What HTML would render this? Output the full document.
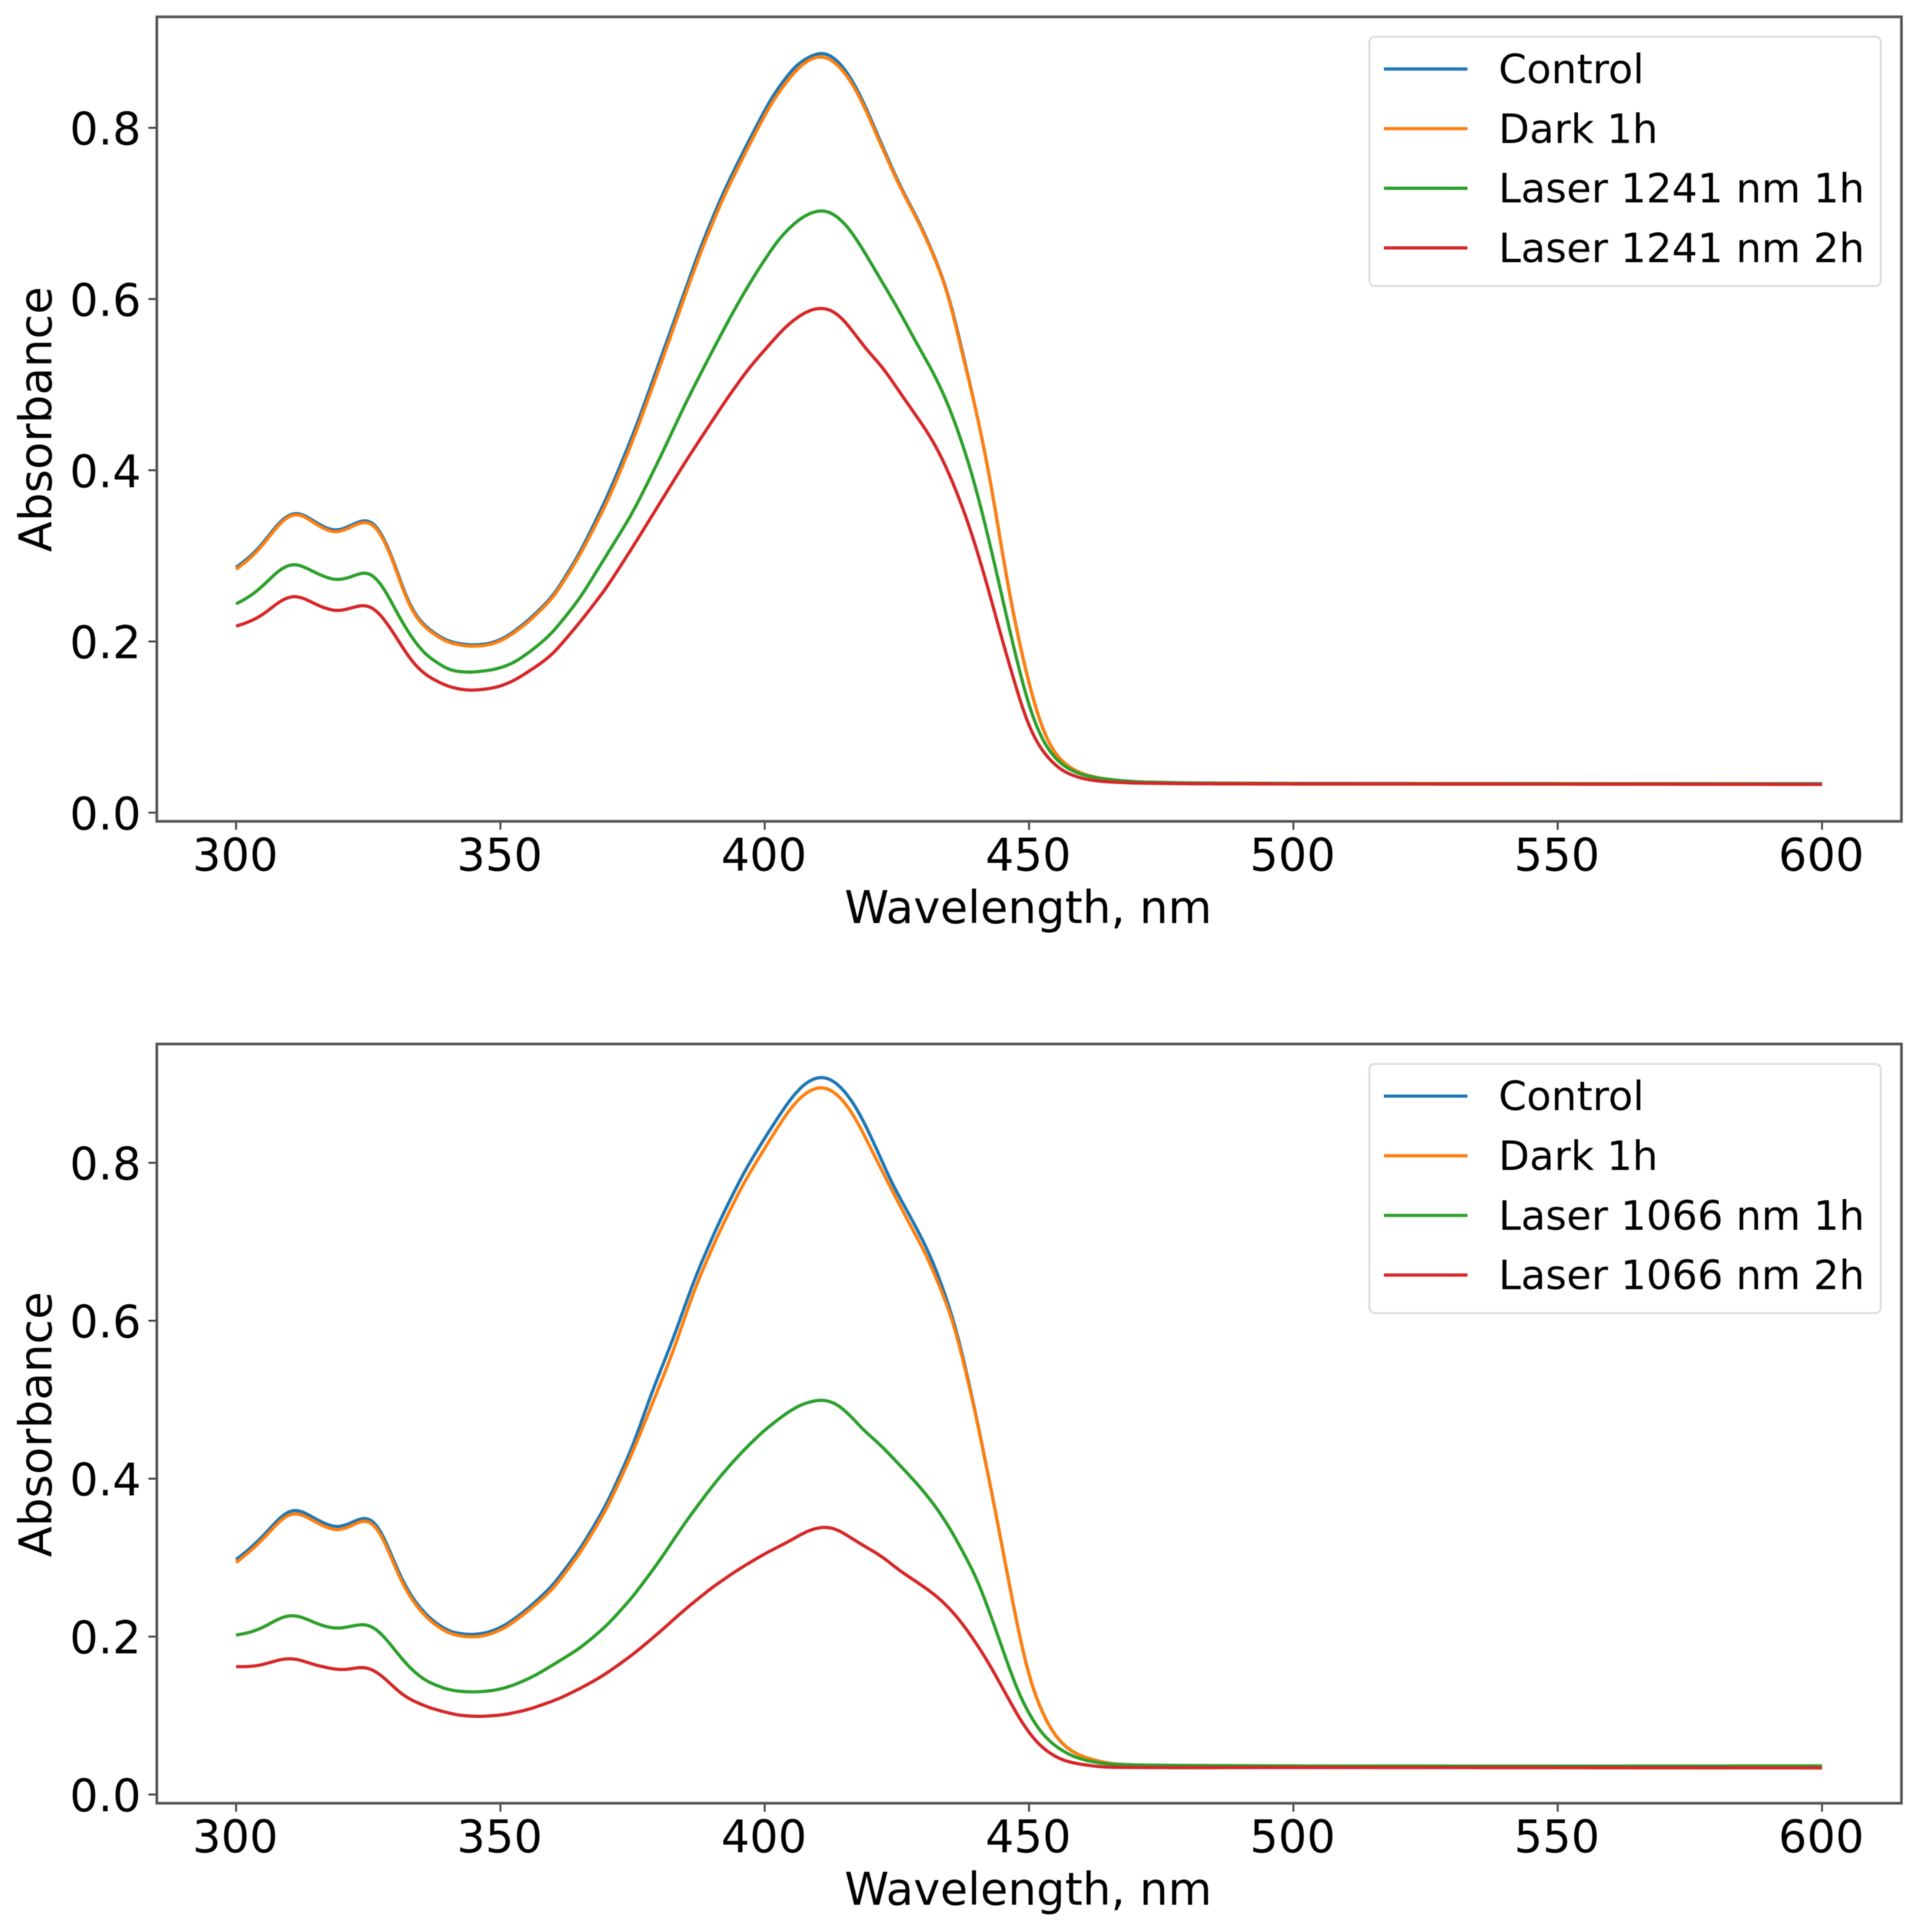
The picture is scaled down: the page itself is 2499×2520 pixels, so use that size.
<!DOCTYPE html>
<html lang="en">
<head>
<meta charset="utf-8">
<title>Absorbance spectra</title>
<style>
html,body{margin:0;padding:0;background:#fff;}
svg{display:block;filter:blur(0.6px);}
text{font-family:"DejaVu Sans","Liberation Sans",sans-serif;fill:#000;}
</style>
</head>
<body>
<svg id="figure" xmlns="http://www.w3.org/2000/svg" width="2499" height="2520" viewBox="0 0 2499 2520">
<rect x="0" y="0" width="2499" height="2520" fill="#fff"/>
<g id="panel-a"></g>
<g id="panel-b"></g>
</svg>
<script>
/* ---------- shared axis data ---------- */
const xTickValues = [300, 350, 400, 450, 500, 550, 600];
const yTickValues = [0.0, 0.2, 0.4, 0.6, 0.8];
const xAxisTitle = "Wavelength, nm";
const yAxisTitle = "Absorbance";
const seriesColors = ["#1f77b4", "#ff7f0e", "#2ca02c", "#d62728"];

/* ---------- top panel data ---------- */
const topLabels = ["Control", "Dark 1h", "Laser 1241 nm 1h", "Laser 1241 nm 2h"];

const topControlNm = [300,303,305,307,309,311.5,314,316.5,319,321.5,324.5,326.5,328,330,332,334,336.5,340,344,348,351,355,360,365,370,373,376,380,383.5,387.8,392.2,397,401.3,405.7,408.6,410.5,412.5,415.4,418.3,421.6,425.5,429.4,432.8,435.2,437,438.8,440.7,442.4,443.9,445.3,446.8,448.2,449.7,451.1,453.1,455.5,458.4,461.8,465.6,470,480,500,550,600];
const topControlA = [.2865,.3005,.314,.3304,.3453,.3523,.3438,.3334,.3279,.3349,.3439,.3378,.3214,.2916,.2528,.2289,.2135,.2,.1955,.197,.2045,.2229,.2528,.303,.366,.41,.456,.5254,.5851,.6598,.7255,.7851,.8359,.8727,.884,.8885,.886,.868,.836,.788,.733,.688,.64,.598,.548,.502,.45,.399,.344,.289,.238,.197,.1575,.1235,.087,.063,.0494,.0419,.0384,.036,.0347,.0342,.0340,.0338];

const topDarkNm = [300,303,305,307,309,311.5,314,316.5,319,321.5,324.5,326.5,328,330,332,334,336.5,340,344,348,351,355,360,365,370,373,376,380.07,383.5,387.8,392.2,397,401.3,405.7,408.6,410.5,412.5,415.4,418.3,421.6,425.5,429.4,432.8,435.2,436.9,438.8,440.7,442.4,443.9,445.3,446.8,448.2,449.7,451.1,453.1,455.5,458.4,461.8,465.6,470,480,500,550,600];
const topDarkA = [.2842,.2985,.312,.3284,.3433,.3513,.3418,.3314,.3259,.3329,.3419,.3358,.3194,.2896,.2508,.2269,.212,.1985,.194,.1955,.203,.2209,.2508,.3,.36,.403,.45,.5194,.5791,.6538,.7195,.7791,.8299,.8667,.8812,.8847,.8812,.8637,.8329,.7851,.7314,.6866,.6389,.5971,.5463,.5018,.4503,.3989,.3441,.2893,.2379,.1967,.1575,.1235,.0871,.0631,.0494,.0419,.0384,.0358,.0345,.034,.0338,.0335];

const topLaser1hNm = [300,303,305.5,308.3,311,313.3,315.8,319,321.5,324.7,326.6,328.3,330.2,332.7,335.6,340.4,344.3,349.1,352.5,356.3,359.7,365,370,375,380,385,388.05,391.7,395.1,398.9,402.8,406.2,408.6,410.8,412.9,415.8,418.7,422.1,425,428.9,431.8,434.7,437.1,439.1,441,442.9,444.8,446.8,448.7,450.6,453.1,456,459.3,463.2,467,472,480,500,550,600];
const topLaser1hA = [.2439,.2538,.2672,.2851,.2921,.286,.2776,.2707,.2746,.2831,.2746,.2597,.2358,.209,.1851,.1657,.1636,.1672,.1746,.1911,.209,.25,.3,.35,.412,.478,.515,.5582,.5971,.6359,.6717,.6921,.7011,.7044,.7011,.6846,.6568,.6209,.5911,.5463,.5155,.4778,.4366,.3989,.3544,.3064,.255,.2002,.1522,.1111,.0768,.0562,.0453,.0398,.0375,.0355,.0345,.0338,.0337,.0335];

const topLaser2hNm = [300,303,305.5,308.3,311,313.3,316,319,321.5,324,326,327.8,330.2,333.2,336,340.4,344.3,349.1,352.5,356.3,359.7,365,370,375,380,385,390,393,397,400.4,403.8,407.1,409.6,412,414.4,416.8,419.7,422.1,425.5,428.4,431.3,433.7,436.1,438.6,441,442.9,444.8,446.8,448.7,450.6,453.1,456,459.3,462.2,465.6,470,480,500,550,600];
const topLaser2hA = [.2179,.2239,.2328,.2478,.2547,.2493,.2403,.2348,.2382,.2437,.2403,.2284,.206,.1761,.1597,.1463,.1424,.1457,.1537,.1687,.1836,.222,.262,.31,.36,.41,.457,.485,.5194,.5433,.5672,.5831,.5896,.5896,.5801,.5612,.5373,.5223,.4915,.4658,.4401,.4126,.3784,.3373,.2893,.2481,.2036,.1625,.1214,.0905,.0665,.0494,.0408,.0374,.0357,.0345,.0338,.0335,.0333,.033];

/* ---------- bottom panel data ---------- */
const bottomLabels = ["Control", "Dark 1h", "Laser 1066 nm 1h", "Laser 1066 nm 2h"];

const bottomControlNm = [300,303,305,307,309,311.2,313.3,316.2,319.1,321.5,324.5,326.4,327.9,329.8,331.7,334.2,337,340.4,344.3,347.6,351,354.9,359.7,365,370,375,378.6,382.5,386.8,391.2,396,400.4,404.7,407.6,410.5,412.9,415.4,417.8,420.7,424,427.9,431.3,433.7,436.1,438.1,440,441.9,443.4,444.8,446.3,447.8,449.2,450.6,452.1,454,456.4,459.4,463.2,465.6,470,480,500,550,600];
const bottomControlA = [.2975,.3135,.3265,.3414,.356,.3627,.356,.3445,.337,.3431,.3529,.3462,.3284,.2961,.2665,.2402,.2206,.2056,.202,.2046,.2143,.2337,.2629,.31,.366,.44,.509,.5737,.6546,.7226,.7874,.8358,.8797,.9017,.9102,.9056,.8894,.8651,.8246,.7744,.7275,.6838,.6417,.594,.537,.481,.416,.369,.317,.265,.213,.168,.135,.109,.083,.062,.0494,.0419,.039,.0372,.0362,.0352,.0345,.034];

const bottomDarkNm = [300,303,305,307,309,311.2,313.3,316.2,319.1,321.5,324.5,326.4,327.9,329.8,331.7,334.2,337,340.4,344.3,347.6,351,354.9,359.7,365,370,375,378.6,382.5,386.8,391.2,396,400.4,404.7,407.6,410.3,412.5,414.9,417.3,420.2,423.6,427.4,430.8,433.2,435.7,438.1,440,441.9,443.4,444.8,446.3,447.8,449.2,450.6,452.1,454,456.4,459.4,463.2,465.6,470,480,500,550,600];
const bottomDarkA = [.2937,.3098,.3228,.3374,.3519,.3584,.3519,.3406,.3331,.339,.3497,.3422,.3244,.2921,.2629,.237,.2176,.203,.1988,.2014,.2111,.2305,.2581,.305,.36,.433,.4928,.5575,.6417,.7097,.7744,.823,.8683,.8888,.8972,.8936,.8797,.8554,.8165,.7712,.7226,.6806,.6417,.5996,.534,.48,.415,.369,.317,.2649,.2129,.1683,.1349,.1088,.0828,.0624,.0494,.0419,.039,.037,.036,.035,.0342,.0338];

const bottomLaser1hNm = [300,303,305.5,308.3,311,313.3,316,319,321.5,324.5,326.4,328.3,330.7,333.2,336,340.4,344.8,349.1,352.5,356.3,359.7,365,370,375,380,385,390,393,396,399.6,402.8,406.2,408.6,410.8,413.2,415.8,418.5,422.1,425.5,428.9,432.3,435.2,437.6,440,441.9,443.9,445.8,447.8,449.7,452.1,455,458.4,462.3,465.6,472,480,500,550,600];
const bottomLaser1hA = [.202,.2056,.2127,.2241,.2283,.2224,.2143,.2094,.2127,.217,.2111,.1982,.1771,.1577,.1431,.1318,.1295,.1318,.1383,.1496,.1632,.185,.213,.25,.295,.345,.39,.414,.436,.4595,.4766,.4922,.4977,.5006,.497,.4831,.4625,.4415,.4174,.3932,.3653,.3356,.3059,.2761,.2427,.2055,.1683,.1311,.1051,.0791,.0605,.0475,.0408,.0382,.0372,.0368,.0362,.0360,.0363];

const bottomLaser2hNm = [300,303,305.5,307.7,310.2,312.4,314.8,317.7,320.1,322.5,324,325.9,327.8,330.2,332.3,336.7,341.9,346,350.8,355.3,361.2,366.3,370,375,380,385,390,395,400,405,408,411,413,415,417,419.5,422.1,425.5,428.9,432.8,436.1,439,441.9,444.4,446.8,448.7,451.1,453.6,456.5,459.8,463.2,465.6,472,480,500,550,600];
const bottomLaser2hA = [.1619,.1619,.1651,.17,.1733,.17,.1642,.1599,.1573,.1599,.1626,.1587,.1496,.1334,.1221,.1094,.1004,.0985,.101,.1075,.1215,.1385,.153,.177,.205,.235,.262,.285,.305,.322,.334,.3395,.338,.331,.322,.312,.3021,.2835,.2687,.2501,.2278,.2018,.172,.1423,.1126,.0903,.068,.0531,.0427,.0382,.0352,.0345,.0342,.0340,.0343,.0340,.0337];

/* ---------- axis geometry ---------- */
const SVG_NS = "http://www.w3.org/2000/svg";
const xRangeMin = 285;
const xPixelsPerNm = 6.895;
const axesLeft = 204.5;
const axesRight = 2480;
const smoothSigmaNm = 1.2;
const sampleStepNm = 0.5;

function xScale(nm) {
  return axesLeft + (nm - xRangeMin) * xPixelsPerNm;
}

function makeEl(tag, attrs, parent) {
  const el = document.createElementNS(SVG_NS, tag);
  for (const key in attrs) {
    el.setAttribute(key, attrs[key]);
  }
  parent.appendChild(el);
  return el;
}

/* Read a series at any wavelength by straight-line lookup between its read-off nodes */
function valueAt(nm, values, q) {
  if (q <= nm[0]) return values[0];
  for (let i = 1; i < nm.length; i++) {
    if (q <= nm[i]) {
      const t = (q - nm[i - 1]) / (nm[i] - nm[i - 1]);
      return values[i - 1] + t * (values[i] - values[i - 1]);
    }
  }
  return values[values.length - 1];
}

/* Gaussian-filtered trace through the nodes, the same low-pass the instrument trace shows */
function smoothPath(nm, values, yScale) {
  const first = nm[0];
  const last = nm[nm.length - 1];
  const reach = Math.ceil(3 * smoothSigmaNm / sampleStepNm);
  let d = "";
  const count = Math.round((last - first) / sampleStepNm);
  for (let i = 0; i <= count; i++) {
    const q = first + i * sampleStepNm;
    const window = Math.min(reach, i, count - i);
    let sum = 0;
    let weight = 0;
    for (let k = -window; k <= window; k++) {
      const offset = k * sampleStepNm;
      const w = Math.exp(-offset * offset / (2 * smoothSigmaNm * smoothSigmaNm));
      sum += w * valueAt(nm, values, q + offset);
      weight += w;
    }
    d += (i === 0 ? "M" : "L") + xScale(q).toFixed(2) + " " + yScale(sum / weight).toFixed(2);
  }
  return d;
}

function drawPanel(group, opts) {
  const yScale = (a) => opts.yZero - a * opts.yPixelsPerUnit;

  /* y ticks and labels */
  yTickValues.forEach((v) => {
    const y = yScale(v);
    const tick = makeEl("line", {x1: axesLeft - 11, x2: axesLeft, y1: y, y2: y, stroke: "#444", "stroke-width": 2.5}, group);
    
    
    const label = makeEl("text", {x: 184, y: y + 22, "text-anchor": "end", "font-size": 58.6}, group);
    
    
    label.textContent = v.toFixed(1);
  });

  /* x ticks and labels */
  xTickValues.forEach((v) => {
    const x = xScale(v);
    const tick = makeEl("line", {x1: x, x2: x, y1: opts.axesBottom, y2: opts.axesBottom + 11, stroke: "#444", "stroke-width": 2.5}, group);
    
    
    const label = makeEl("text", {x: x - 1, y: opts.axesBottom + 64, "text-anchor": "middle", "font-size": 58.6}, group);
    
    
    label.textContent = String(v);
  });

  /* axis titles */
  const xTitle = makeEl("text", {x: 1341, y: opts.axesBottom + 132.5, "text-anchor": "middle", "font-size": 58.6}, group);
  
  
  xTitle.textContent = xAxisTitle;

  const yTitle = makeEl("text", {x: 0, y: 0, "text-anchor": "middle", "font-size": 58.6, transform: "translate(67 " + opts.yTitleCenter + ") rotate(-90)"}, group);
  
  
  yTitle.textContent = yAxisTitle;

  /* series */
  opts.series.forEach((s, i) => {
    const path = makeEl("path", {d: smoothPath(s.nm, s.values, yScale), fill: "none", stroke: seriesColors[i], "stroke-width": 4.2, "stroke-linejoin": "round"}, group);
    
    
  });

  /* spines */
  const frame = makeEl("rect", {x: axesLeft, y: opts.axesTop, width: axesRight - axesLeft, height: opts.axesBottom - opts.axesTop, fill: "none", stroke: "#555", "stroke-width": 3.5}, group);
  
  

  /* legend */
  const legendTop = opts.axesTop + 26;
  const legend = makeEl("g", {}, group);
  
  
  const legendBox = makeEl("rect", {x: 1786, y: legendTop, width: 667, height: 325, rx: 7, ry: 7, fill: "#fff", stroke: "#dcdcdc", "stroke-width": 2.5}, legend);
  
  
  opts.labels.forEach((text, i) => {
    const rowY = legendTop + 42 + i * 77.8;
    const handle = makeEl("line", {x1: 1805, x2: 1914, y1: rowY, y2: rowY, stroke: seriesColors[i], "stroke-width": 4.2}, legend);
    
    
    const label = makeEl("text", {x: 1954.5, y: rowY + 18.5, "font-size": 52.5}, legend);
    
    
    label.textContent = text;
  });
}

drawPanel(document.getElementById("panel-a"), {
  axesTop: 22,
  axesBottom: 1071.3,
  yZero: 1060,
  yPixelsPerUnit: 1116.6,
  yTitleCenter: 547,
  labels: topLabels,
  series: [
    {nm: topControlNm, values: topControlA},
    {nm: topDarkNm, values: topDarkA},
    {nm: topLaser1hNm, values: topLaser1hA},
    {nm: topLaser2hNm, values: topLaser2hA}
  ]
});

drawPanel(document.getElementById("panel-b"), {
  axesTop: 1361.7,
  axesBottom: 2352,
  yZero: 2340.7,
  yPixelsPerUnit: 1030,
  yTitleCenter: 1858,
  labels: bottomLabels,
  series: [
    {nm: bottomControlNm, values: bottomControlA},
    {nm: bottomDarkNm, values: bottomDarkA},
    {nm: bottomLaser1hNm, values: bottomLaser1hA},
    {nm: bottomLaser2hNm, values: bottomLaser2hA}
  ]
});
</script>
</body>
</html>
